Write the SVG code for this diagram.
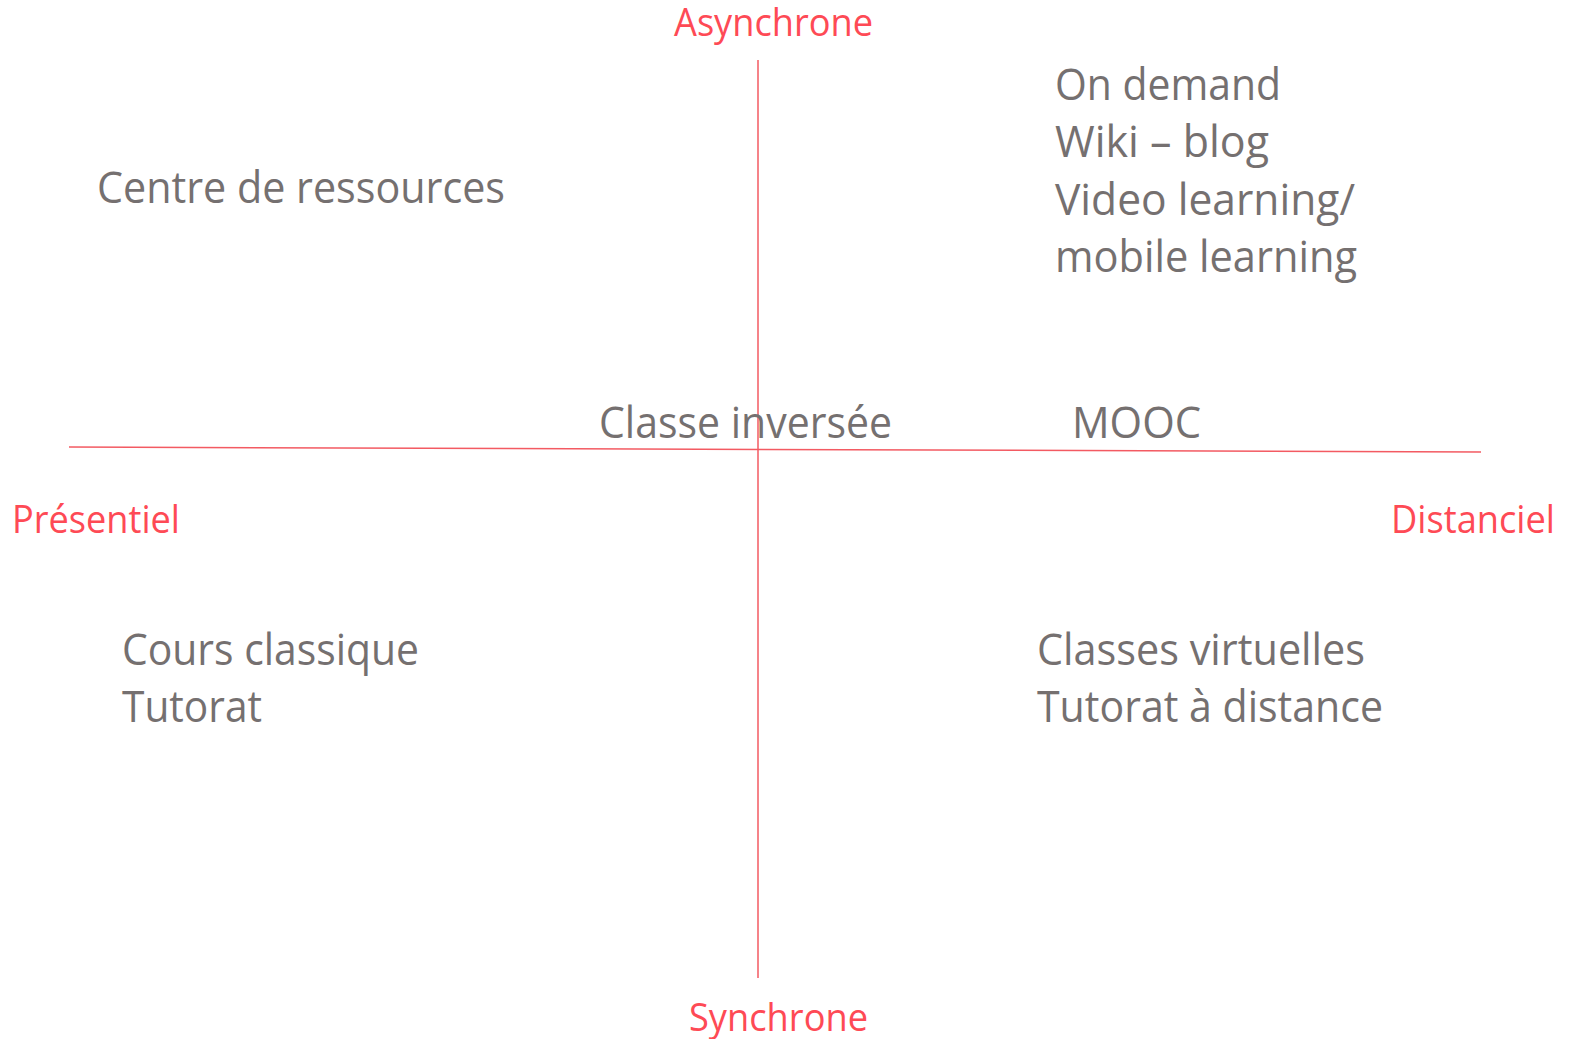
<svg xmlns="http://www.w3.org/2000/svg" width="1570" height="1039" viewBox="0 0 1570 1039">
<style>
.ax{fill:#fe4a55;font-family:"Open Sans","Noto Sans",sans-serif;font-size:38px}
.it{fill:#757070;font-family:"Open Sans","Noto Sans",sans-serif;font-size:43px}
.ln{stroke:#f35a62;stroke-width:1.5;fill:none}
</style>
<rect width="1570" height="1039" fill="#ffffff"/>
<g id="axes">
<line class="ln" x1="758" y1="60" x2="758" y2="978"/>
<line class="ln" x1="69" y1="447" x2="1481" y2="452"/>
</g>
<g id="labels">
<text class="ax" x="674" y="36" textLength="199" lengthAdjust="spacingAndGlyphs">Asynchrone</text>
<text class="ax" x="12" y="533" textLength="168" lengthAdjust="spacingAndGlyphs">Présentiel</text>
<text class="ax" x="1391" y="533" textLength="164" lengthAdjust="spacingAndGlyphs">Distanciel</text>
<text class="ax" x="689" y="1031" textLength="179" lengthAdjust="spacingAndGlyphs">Synchrone</text>
</g>
<g id="centre-ressources"><text class="it" x="97" y="203" textLength="408" lengthAdjust="spacingAndGlyphs">Centre de ressources</text></g>
<g id="asynchrone-distanciel">
<text class="it" x="1055" y="100" textLength="226" lengthAdjust="spacingAndGlyphs">On demand</text>
<text class="it" x="1055" y="157" textLength="214" lengthAdjust="spacingAndGlyphs">Wiki – blog</text>
<text class="it" x="1055" y="215" textLength="300" lengthAdjust="spacingAndGlyphs">Video learning/</text>
<text class="it" x="1055" y="272" textLength="302" lengthAdjust="spacingAndGlyphs">mobile learning</text>
</g>
<g id="classe-inversee"><text class="it" x="599" y="438" textLength="293" lengthAdjust="spacingAndGlyphs">Classe inversée</text></g>
<g id="mooc"><text class="it" x="1072" y="438" textLength="129" lengthAdjust="spacingAndGlyphs">MOOC</text></g>
<g id="presentiel-synchrone">
<text class="it" x="122" y="665" textLength="297" lengthAdjust="spacingAndGlyphs">Cours classique</text>
<text class="it" x="122" y="722" textLength="140" lengthAdjust="spacingAndGlyphs">Tutorat</text>
</g>
<g id="distanciel-synchrone">
<text class="it" x="1037" y="665" textLength="328" lengthAdjust="spacingAndGlyphs">Classes virtuelles</text>
<text class="it" x="1037" y="722" textLength="346" lengthAdjust="spacingAndGlyphs">Tutorat à distance</text>
</g>
</svg>
